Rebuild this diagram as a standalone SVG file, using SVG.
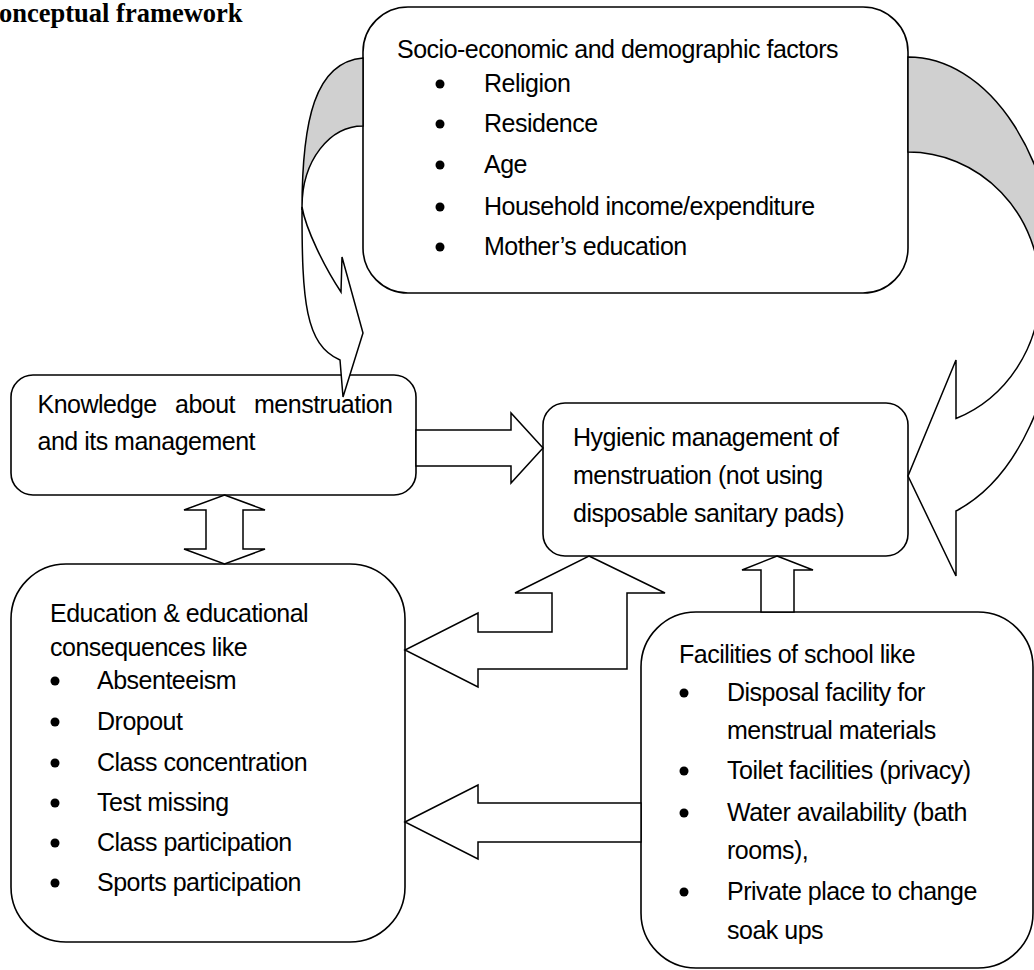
<svg xmlns="http://www.w3.org/2000/svg" width="1034" height="970" viewBox="0 0 1034 970">
<style>
.box{fill:#fff;stroke:#000;stroke-width:1.6}
.t{font-family:"Liberation Sans",Arial,sans-serif;font-size:25px;letter-spacing:-0.5px;fill:#000}
.dot{fill:#000}
.arr{fill:#fff;stroke:#000;stroke-width:1.5;stroke-linejoin:miter}
.back{fill:#d0d0d0;stroke:#000;stroke-width:1.5}
.title{font-family:"Liberation Serif","Times New Roman",serif;font-size:26.5px;font-weight:bold;fill:#000}
</style>
<rect width="1034" height="970" fill="#fff"/>
<text class="title" x="-1" y="22">onceptual framework</text>

<g id="socio">
<rect class="box" x="363" y="7" width="545" height="286" rx="45"/>
<text class="t" x="397" y="58">Socio-economic and demographic factors</text>
<circle class="dot" cx="440" cy="84" r="4.5"/><text class="t" x="484" y="92">Religion</text>
<circle class="dot" cx="440" cy="124" r="4.5"/><text class="t" x="484" y="132">Residence</text>
<circle class="dot" cx="440" cy="165" r="4.5"/><text class="t" x="484" y="173">Age</text>
<circle class="dot" cx="440" cy="207" r="4.5"/><text class="t" x="484" y="215">Household income/expenditure</text>
<circle class="dot" cx="440" cy="247" r="4.5"/><text class="t" x="484" y="255">Mother’s education</text>
</g>

<g id="knowledge">
<rect class="box" x="11" y="375" width="405" height="120" rx="22"/>
<text class="t" x="37.5" y="413">Knowledge</text>
<text class="t" x="175" y="413">about</text>
<text class="t" x="254" y="413">menstruation</text>
<text class="t" x="37.5" y="450">and its management</text>
</g>

<g id="hygienic">
<rect class="box" x="543" y="403" width="365" height="153" rx="22"/>
<text class="t" x="573" y="446">Hygienic management of</text>
<text class="t" x="573" y="484">menstruation (not using</text>
<text class="t" x="573" y="522">disposable sanitary pads)</text>
</g>

<g id="education">
<rect class="box" x="11" y="564" width="394" height="378" rx="55"/>
<text class="t" x="50" y="622">Education &amp; educational</text>
<text class="t" x="50" y="656">consequences like</text>
<circle class="dot" cx="55" cy="681" r="4.5"/><text class="t" x="97" y="689">Absenteeism</text>
<circle class="dot" cx="55" cy="722" r="4.5"/><text class="t" x="97" y="730">Dropout</text>
<circle class="dot" cx="55" cy="763" r="4.5"/><text class="t" x="97" y="771">Class concentration</text>
<circle class="dot" cx="55" cy="803" r="4.5"/><text class="t" x="97" y="811">Test missing</text>
<circle class="dot" cx="55" cy="843" r="4.5"/><text class="t" x="97" y="851">Class participation</text>
<circle class="dot" cx="55" cy="883" r="4.5"/><text class="t" x="97" y="891">Sports participation</text>
</g>

<g id="facilities">
<rect class="box" x="641" y="612" width="392" height="356" rx="55"/>
<text class="t" x="679" y="663">Facilities of school like</text>
<circle class="dot" cx="684" cy="693" r="4.5"/><text class="t" x="727" y="701">Disposal facility for</text>
<text class="t" x="727" y="739">menstrual materials</text>
<circle class="dot" cx="684" cy="771" r="4.5"/><text class="t" x="727" y="779">Toilet facilities (privacy)</text>
<circle class="dot" cx="684" cy="813" r="4.5"/><text class="t" x="727" y="821">Water availability (bath</text>
<text class="t" x="727" y="859">rooms),</text>
<circle class="dot" cx="684" cy="892" r="4.5"/><text class="t" x="727" y="900">Private place to change</text>
<text class="t" x="727" y="939">soak ups</text>
</g>

<g id="connectors">
<path class="back" d="M363,58 C315,62 302,120 302,210 L302,207 C302,160 330,126 363,126 Z"/>
<path class="arr" d="M302,207 C306,230 325,268 341,292 L342,257 L363,333 L343,397 L340,360 C305,345 302,300 302,210 Z"/>
<path class="back" d="M908,57 A150,233 0 0 1 1058,290 L1040,290 A132,138 0 0 0 908,152 Z"/>
<path class="arr" d="M1040,290 A132,138 0 0 1 956,418.5 L956,360 L908,476 L956,576 L956,511 A150,233 0 0 0 1058,290 Z"/>
<path class="arr" d="M416,430 L511,430 L511,413 L543,448 L511,483 L511,466 L416,466 Z"/>
<path class="arr" d="M224.5,495 L265,510 L243,510 L243,549 L265,549 L224.5,564 L184,549 L206,549 L206,510 L184,510 Z"/>
<path class="arr" d="M589,556 L665,593 L627,593 L627,669 L478,669 L478,687 L405,650 L478,613 L478,632 L552,632 L552,593 L515,593 Z"/>
<path class="arr" d="M777,556 L813,570 L794,570 L794,612 L761,612 L761,570 L742,570 Z"/>
<path class="arr" d="M405,822 L478,785 L478,803 L641,803 L641,842 L478,842 L478,859 Z"/>
</g>
</svg>
